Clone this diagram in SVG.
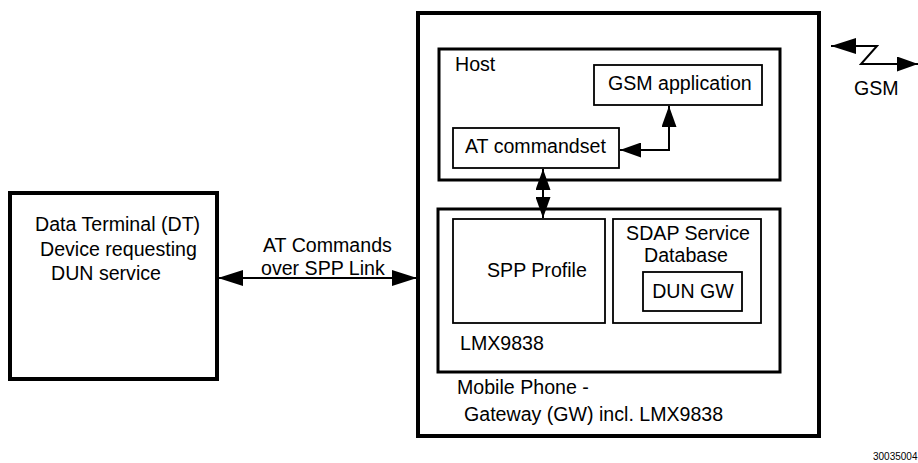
<svg xmlns="http://www.w3.org/2000/svg" width="918" height="463" viewBox="0 0 918 463">
<style>
text{font-family:"Liberation Sans",Arial,sans-serif;font-size:19.6px;fill:#000}
.thick{fill:#fff;stroke:#000;stroke-width:4}
.mid{fill:none;stroke:#000;stroke-width:3}
.thin{fill:none;stroke:#000;stroke-width:1.8}
.ln{fill:none;stroke:#000;stroke-width:2}
</style>
<defs>
<marker id="ah" viewBox="0 0 25 16" refX="25" refY="8" markerWidth="25" markerHeight="16" markerUnits="userSpaceOnUse" orient="auto-start-reverse">
<path d="M0,0 L25,8 L0,16 Z" fill="#000"/>
</marker>
<marker id="ahs" viewBox="0 0 21 15" refX="21" refY="7.5" markerWidth="21" markerHeight="15" markerUnits="userSpaceOnUse" orient="auto-start-reverse">
<path d="M0,0 L21,7.5 L0,15 Z" fill="#000"/>
</marker>
</defs>
<g id="dt">
<rect class="thick" x="10" y="193" width="207" height="186"/>
<text x="35" y="231">Data Terminal (DT)</text>
<text x="40" y="256">Device requesting</text>
<text x="51" y="280">DUN service</text>
</g>
<g id="gw">
<rect class="thick" x="418" y="13" width="401" height="423"/>
<text x="457" y="394">Mobile Phone -</text>
<text x="464" y="421">Gateway (GW) incl. LMX9838</text>
</g>
<g id="host">
<rect class="mid" x="439" y="49" width="341" height="131"/>
<text x="455" y="71">Host</text>
</g>
<g id="gsmapp">
<rect class="thin" x="594" y="65" width="168" height="40"/>
<text x="608" y="90">GSM application</text>
</g>
<g id="atcmd">
<rect class="thin" x="453" y="128" width="166" height="40"/>
<text x="465" y="153">AT commandset</text>
</g>
<g id="lmx">
<rect class="mid" x="438" y="209" width="342" height="163"/>
<text x="460" y="350">LMX9838</text>
</g>
<g id="spp">
<rect class="thin" x="453" y="219" width="152" height="104"/>
<text x="487" y="277">SPP Profile</text>
</g>
<g id="sdap">
<rect class="thin" x="613" y="219" width="148" height="104"/>
<text x="688" y="240" text-anchor="middle">SDAP Service</text>
<text x="686" y="262" text-anchor="middle">Database</text>
</g>
<g id="dungw">
<rect class="thin" x="643" y="272" width="99" height="39"/>
<text x="693" y="298" text-anchor="middle">DUN GW</text>
</g>
<g id="gsm">
<text x="854" y="95">GSM</text>
</g>
<g id="connectors">
<line class="ln" x1="218" y1="278" x2="417" y2="278" marker-start="url(#ah)" marker-end="url(#ah)"/>
<text x="263" y="252">AT Commands</text>
<text x="261" y="275">over SPP Link</text>
<polyline class="ln" points="620,150 669,150 669,106" marker-start="url(#ahs)" marker-end="url(#ahs)"/>
<line class="ln" x1="543" y1="169" x2="543" y2="218" marker-start="url(#ahs)" marker-end="url(#ahs)"/>
<polyline class="ln" points="831,46 877,46 861,64 918,64" marker-start="url(#ah)" marker-end="url(#ahs)"/>
</g>
<text x="873" y="460" style="font-size:10px">30035004</text>
</svg>
